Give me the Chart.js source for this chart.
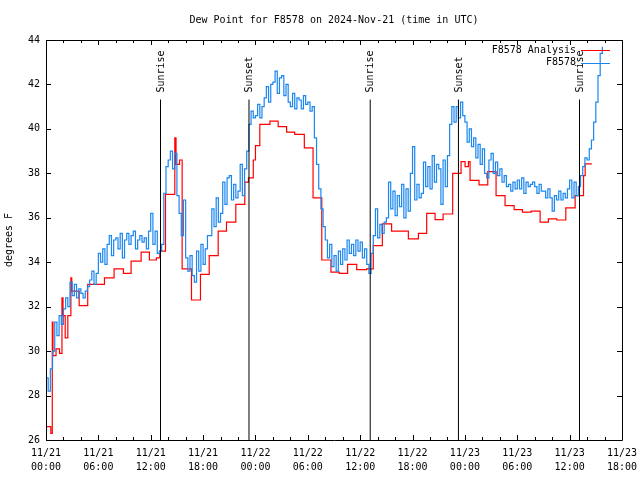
<!DOCTYPE html>
<html>
<head>
<meta charset="utf-8">
<script src="https://cdn.jsdelivr.net/npm/chart.js@4/dist/chart.umd.min.js"></script>
<style>
  html, body { margin: 0; padding: 0; background: #fff; }
</style>
</head>
<body>
<canvas id="dewChart" width="640" height="480"></canvas>
<script>
// hours since 11/21 00:00 UTC
const xTickLabels = [
    ['11/21', '00:00'], ['11/21', '06:00'], ['11/21', '12:00'], ['11/21', '18:00'],
    ['11/22', '00:00'], ['11/22', '06:00'], ['11/22', '12:00'], ['11/22', '18:00'],
    ['11/23', '00:00'], ['11/23', '06:00'], ['11/23', '12:00'], ['11/23', '18:00']
];

// analysis (red), step changes: [hour, dew point F]
const analysisHours = [
    0, 0.55, 0.72, 0.8, 1.15, 1.55, 1.83, 1.95, 2.2, 2.5, 2.85, 2.95, 3.8, 4.78,
    6.7, 7.8, 8.87, 9.75, 10.9, 11.85, 12.65, 13.04, 13.69, 14.76, 14.9, 15.3, 15.6,
    16.67, 17.7, 18.7, 19.73, 20.68, 21.75, 22.78, 23.2, 23.75, 24.0, 24.5, 25.66,
    26.6, 27.57, 28.5, 29.6, 30.6, 31.6, 32.65, 33.6, 34.56, 35.6, 36.74, 37.5,
    38.54, 39.6, 41.52, 42.67, 43.62, 44.58, 45.5, 46.6, 47.56, 48.02, 48.4, 48.59,
    49.62, 50.62, 51.57, 52.6, 53.64, 54.59, 55.59, 56.62, 57.57, 58.53, 59.56,
    60.63, 61.59, 61.78, 62.54
];
const analysisValues = [
    26.6, 26.3, 31.3, 29.8, 30.1, 29.9, 32.4, 31.6, 30.6, 31.6, 33.3, 32.7, 32.05, 33.0,
    33.3, 33.7, 33.5, 34.05, 34.45, 34.1, 34.2, 34.5, 37.05, 39.6, 38.4, 38.6, 33.7,
    32.3, 33.45, 34.3, 35.4, 35.8, 36.6, 37.6, 37.8, 38.6, 39.25, 40.2, 40.35,
    40.1, 39.85, 39.75, 39.15, 36.9, 34.1, 33.55, 33.5, 33.9, 33.67, 33.7, 34.75,
    35.73, 35.4, 35.05, 35.3, 36.2, 35.92, 36.17, 38.0, 38.53, 38.3, 38.53, 37.68,
    37.48, 38.08, 37.0, 36.55, 36.37, 36.25, 36.3, 35.8, 35.95, 35.9, 36.45,
    37.0, 37.9, 38.43, 38.43
];

// station obs (blue), one value every 15 minutes from 11/21 00:00
const stationStepHours = 0.25;
const stationValues = [
    28.8, 28.2, 29.2, 30.0,  31.3, 30.7, 31.6, 31.2,  31.9, 32.4, 32.0, 33.1,  32.5, 33.0, 32.4, 32.8,
    32.6, 32.4, 32.7, 32.9,  33.2, 33.6, 33.0, 33.5,  34.4, 34.0, 34.6, 33.9,  34.8, 35.2, 34.3, 35.0,
    35.1, 34.6, 35.3, 34.2,  35.0, 35.3, 34.8, 35.2,  35.4, 34.6, 35.0, 35.2,  34.9, 35.1, 34.6, 35.4,
    36.2, 34.8, 35.4, 34.4,  34.5, 34.8, 37.1, 38.3,  38.6, 39.0, 38.2, 38.9,  37.0, 36.2, 35.2, 36.8,
    34.2, 33.6, 34.3, 33.4,  33.1, 34.5, 33.6, 34.8,  33.9, 34.6, 35.2, 35.2,  36.4, 35.6, 36.9, 35.8,
    36.2, 37.6, 36.6, 37.8,  37.9, 36.8, 37.5, 36.9,  37.2, 38.4, 37.0, 38.2,  39.0, 40.2, 40.8, 40.5,
    40.6, 41.1, 40.5, 41.0,  41.4, 41.9, 41.2, 42.0,  42.1, 42.6, 41.6, 42.3,  42.4, 41.5, 42.0, 41.2,
    41.0, 41.6, 40.9, 41.4,  41.3, 40.9, 41.5, 41.1,  41.2, 40.8, 41.0, 39.6,  38.4, 37.3, 36.4, 35.6,
    35.0, 34.2, 34.8, 33.8,  34.3, 33.6, 34.5, 33.9,  34.6, 34.1, 35.0, 34.4,  34.8, 34.3, 35.0, 34.5,
    34.9, 34.2, 34.6, 33.9,  33.5, 34.4, 35.2, 36.4,  35.1, 35.7, 35.3, 35.8,  36.0, 37.6, 36.4, 37.2,
    36.1, 37.0, 36.5, 37.5,  36.0, 37.3, 36.3, 38.0,  39.2, 36.8, 37.5, 36.9,  37.1, 38.5, 37.4, 38.3,
    37.3, 38.8, 37.6, 38.4,  38.2, 36.6, 38.6, 37.4,  38.8, 40.2, 41.0, 40.3,  41.0, 40.5, 41.2, 40.6,
    40.3, 39.4, 40.0, 39.2,  39.6, 38.7, 39.3, 38.4,  39.1, 38.0, 37.8, 38.6,  38.9, 38.0, 38.5, 37.9,
    38.2, 37.6, 37.9, 37.4,  37.5, 37.2, 37.6, 37.3,  37.7, 37.3, 37.8, 37.1,  37.6, 37.4, 37.5, 37.6,
    37.4, 37.1, 37.5, 37.2,  37.2, 36.9, 37.3, 36.9,  36.3, 37.0, 36.8, 37.2,  36.8, 37.1, 36.9, 37.3,
    37.7, 36.9, 37.6, 37.0,  37.4, 37.9, 38.3, 38.7,  38.6, 39.1, 39.5, 40.3,  41.2, 42.4, 43.4, 43.7
];

const sunHours = [13.12, 23.26, 37.15, 47.26, 61.13];
const sunLabels = ['Sunrise', 'Sunset', 'Sunrise', 'Sunset', 'Sunrise'];
const sunLineTop = 41.32;

const FONT = '"DejaVu Sans Mono", "Liberation Mono", monospace';

const analysisData = analysisHours.map((h, i) => ({ x: h, y: analysisValues[i] }));
const stationData = stationValues.map((v, i) => ({ x: i * stationStepHours, y: v }));

const sunSets = sunHours.map(h => ({
    data: [{ x: h, y: 26 }, { x: h, y: sunLineTop }],
    borderColor: '#000',
    borderWidth: 1,
    pointRadius: 0,
    order: 0
}));

// border, inward ticks, sun labels, legend, title
const gnuplotLook = {
    id: 'gnuplotLook',
    afterDatasetsDraw(chart) {
        const { ctx, chartArea: a, scales } = chart;
        const xs = scales.x, ys = scales.y;
        ctx.save();
        ctx.strokeStyle = '#000';
        ctx.lineWidth = 1;
        ctx.beginPath();
        ctx.rect(Math.round(a.left) + 0.5, Math.round(a.top) + 0.5,
            Math.round(a.right - a.left), Math.round(a.bottom - a.top));
        for (let h = 0; h <= 66; h += 2) {
            const px = Math.round(xs.getPixelForValue(h)) + 0.5;
            const len = h % 6 === 0 ? 5 : 3;
            ctx.moveTo(px, a.bottom); ctx.lineTo(px, a.bottom - len);
            ctx.moveTo(px, a.top); ctx.lineTo(px, a.top + len);
        }
        for (let v = 26; v <= 44; v += 2) {
            const py = Math.round(ys.getPixelForValue(v)) + 0.5;
            ctx.moveTo(a.left, py); ctx.lineTo(a.left + 5, py);
            ctx.moveTo(a.right, py); ctx.lineTo(a.right - 5, py);
        }
        ctx.stroke();

        ctx.fillStyle = '#000';
        ctx.font = '10px ' + FONT;
        sunHours.forEach((h, i) => {
            const px = xs.getPixelForValue(h);
            ctx.save();
            ctx.translate(px + 0.5, ys.getPixelForValue(sunLineTop) - 7);
            ctx.rotate(-Math.PI / 2);
            ctx.textAlign = 'left';
            ctx.textBaseline = 'middle';
            ctx.fillText(sunLabels[i], 0, 0);
            ctx.restore();
        });

        // legend
        const entries = [['F8578 Analysis', '#ff0000'], ['F8578', '#1a86f0']];
        ctx.textAlign = 'right';
        ctx.textBaseline = 'middle';
        entries.forEach((e, i) => {
            const y = a.top + 10 + i * 12.5;
            ctx.fillStyle = '#000';
            ctx.fillText(e[0], a.right - 46, y);
            ctx.strokeStyle = e[1];
            ctx.beginPath();
            ctx.moveTo(a.right - 41, Math.round(y) + 0.5);
            ctx.lineTo(a.right - 12, Math.round(y) + 0.5);
            ctx.stroke();
        });

        ctx.fillStyle = '#000';
        ctx.textAlign = 'center';
        ctx.fillText('Dew Point for F8578 on 2024-Nov-21 (time in UTC)', (a.left + a.right) / 2, 20);
        ctx.restore();
    }
};

new Chart(document.getElementById('dewChart'), {
    type: 'line',
    data: {
        datasets: [
            {
                label: 'F8578 Analysis',
                data: analysisData,
                borderColor: '#ff0000',
                borderWidth: 1.2,
                stepped: true,
                pointRadius: 0,
                order: 2
            },
            {
                label: 'F8578',
                data: stationData,
                borderColor: '#1a86f0',
                borderWidth: 1.2,
                stepped: true,
                pointRadius: 0,
                order: 1
            },
            ...sunSets
        ]
    },
    options: {
        responsive: false,
        animation: false,
        devicePixelRatio: 1,
        layout: { padding: { top: 40, right: 18, left: 0, bottom: 0 } },
        plugins: {
            legend: { display: false },
            tooltip: { enabled: false }
        },
        scales: {
            x: {
                type: 'linear',
                min: 0,
                max: 66,
                grid: { display: false, drawTicks: false },
                border: { display: false },
                afterFit: s => { s.height = 40; s.paddingLeft = 0; s.paddingRight = 0; },
                ticks: {
                    stepSize: 6,
                    autoSkip: false,
                    maxRotation: 0,
                    padding: 6,
                    color: '#000',
                    font: { family: FONT, size: 10, lineHeight: 1.4 },
                    callback: (v) => xTickLabels[Math.round(v / 6)]
                }
            },
            y: {
                min: 26,
                max: 44,
                grid: { display: false, drawTicks: false },
                border: { display: false },
                afterFit: s => { s.width = 46; },
                title: {
                    display: true,
                    text: 'degrees F',
                    color: '#000',
                    font: { family: FONT, size: 10, lineHeight: 1.2 },
                    padding: { top: 3, bottom: 0 }
                },
                ticks: {
                    stepSize: 2,
                    padding: 6,
                    color: '#000',
                    font: { family: FONT, size: 10 }
                }
            }
        }
    },
    plugins: [gnuplotLook]
});
</script>
</body>
</html>
